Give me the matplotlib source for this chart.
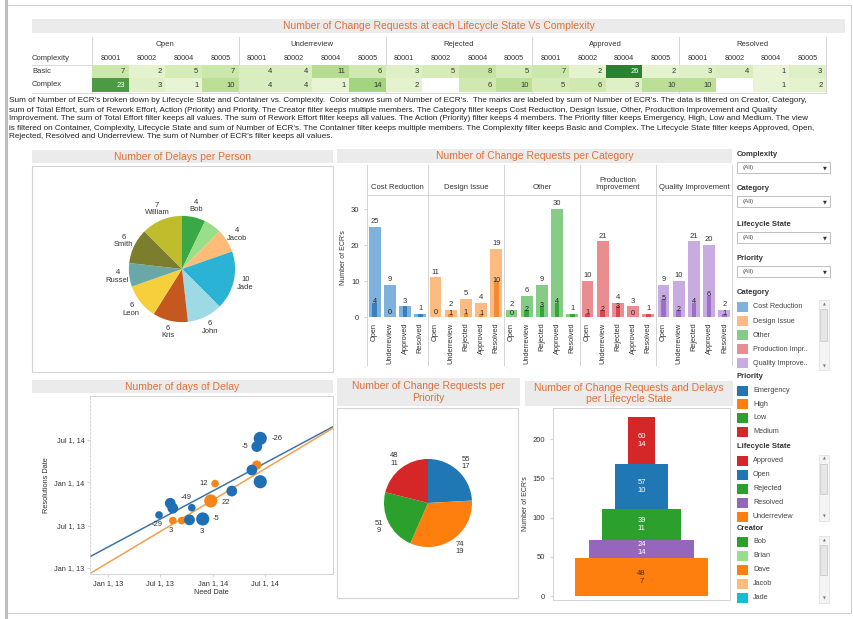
import numpy as np
import matplotlib
matplotlib.use("Agg")
import matplotlib.pyplot as plt
import matplotlib.dates as mdates
from matplotlib.patches import Rectangle
from matplotlib.colors import LinearSegmentedColormap

plt.rcParams['font.family'] = ['Liberation Sans', 'DejaVu Sans']

W, H = 854, 619

# --- data: heat table ---
states = ["Open", "Underreview", "Rejected", "Approved", "Resolved"]
containers = ["80001", "80002", "80004", "80005"]
complexity = ["Basic", "Complex"]
heat_basic = [7, 2, 5, 7, 4, 4, 11, 6, 3, 5, 8, 5, 7, 2, 26, 2, 3, 4, 1, 3]
heat_complex = [23, 3, 1, 10, 4, 4, 1, 14, 2, np.nan, 6, 10, 5, 6, 3, 10, 10, np.nan, 1, 2]

description = [
    "Sum of Number of ECR's broken down by Lifecycle State and Container vs. Complexity.  Color shows sum of Number of ECR's.  The marks are labeled by sum of Number of ECR's. The data is filtered on Creator, Category,",
    "sum of Total Effort, sum of Rework Effort, Action (Priority) and Priority. The Creator filter keeps multiple members. The Category filter keeps Cost Reduction, Design Issue, Other, Production Improvement and Quality",
    "Improvement. The sum of Total Effort filter keeps all values. The sum of Rework Effort filter keeps all values. The Action (Priority) filter keeps 4 members. The Priority filter keeps Emergency, High, Low and Medium. The view",
    "is filtered on Container, Complexity, Lifecycle State and sum of Number of ECR's. The Container filter keeps multiple members. The Complexity filter keeps Basic and Complex. The Lifecycle State filter keeps Approved, Open,",
    "Rejected, Resolved and Underreview. The sum of Number of ECR's filter keeps all values.",
]

# --- data: delays per person ---
people = ["Bob", "Brian", "Jacob", "Jade", "John", "Kris", "Leon", "Russel", "Smith", "William"]
people_delays = [4, 3, 4, 10, 6, 6, 6, 4, 6, 7]
people_labelled = [True, False, True, True, True, True, True, True, True, True]

# --- data: change requests per category ---
categories = ["Cost Reduction", "Design Issue", "Other", "Production\nImprovement", "Quality Improvement"]
cat_states = [
    ["Open", "Underreview", "Approved", "Resolved"],
    ["Open", "Underreview", "Rejected", "Approved", "Resolved"],
    ["Open", "Underreview", "Rejected", "Approved", "Resolved"],
    ["Open", "Underreview", "Rejected", "Approved", "Resolved"],
    ["Open", "Underreview", "Rejected", "Approved", "Resolved"],
]
cat_ecrs = [[25, 9, 3, 1], [11, 2, 5, 4, 19], [2, 6, 9, 30, 1], [10, 21, 4, 3, 1], [9, 10, 21, 20, 2]]
cat_delays = [[4, 0, 3, 1], [0, 1, 1, 1, 10], [0, 2, 3, 4, 1], [1, 2, 3, 0, 1], [5, 2, 4, 6, 1]]

# --- data: delay scatter (need date vs resolution date) ---
blue_need = ["2014-06-14", "2014-06-02", "2014-05-16", "2014-06-14", "2014-03-07", "2013-08-05",
             "2013-08-14", "2013-10-19", "2013-06-27", "2013-10-11", "2013-11-26"]
blue_res = ["2014-07-08", "2014-06-03", "2014-02-23", "2014-01-04", "2013-11-25", "2013-10-04",
            "2013-09-13", "2013-09-15", "2013-08-15", "2013-07-25", "2013-07-29"]
blue_effort = [3, 2, 2, 3, 2, 2, 2, 1, 1, 2, 3]
orange_need = ["2014-01-08", "2013-12-24", "2013-08-14", "2013-09-14", "2014-06-02"]
orange_res = ["2013-12-27", "2013-10-14", "2013-07-22", "2013-07-22", "2014-03-16"]
orange_effort = [1, 3, 1, 1, 1.5]
blue_trend_x = ["2012-10-30", "2015-02-22"]
blue_trend_y = ["2013-02-18", "2014-08-27"]
orange_trend_x = ["2012-10-30", "2015-02-22"]
orange_trend_y = ["2012-12-08", "2014-08-21"]

# --- data: priority ---
priorities = ["Emergency", "High", "Low", "Medium"]
pri_ecrs = [55, 74, 51, 48]
pri_delays = [17, 19, 9, 11]

# --- data: lifecycle funnel ---
funnel_states = ["Underreview", "Resolved", "Rejected", "Open", "Approved"]
funnel_ecrs = [48, 24, 39, 57, 60]
funnel_delays = [7, 14, 11, 10, 14]

creators = ["Bob", "Brian", "Dave", "Jacob", "Jade"]

# colours
TITLE_C = '#e0703a'
BAND_C = '#ebebeb'
LINE_C = '#d4d4d4'
TXT = '#333333'
people_colors = ['#3aa845', '#98df8a', '#ffbb78', '#2bb3d6', '#9edae5', '#c4581f',
                 '#f5d03c', '#6aa8a8', '#7d7d2e', '#bfbd2c']
cat_light = ['#7fb1dd', '#fbbb82', '#86cc86', '#ea8d90', '#c8abe0']
cat_dark = ['#3b7dbd', '#f08c36', '#36a63b', '#d8474b', '#9a70c6']
pri_colors = ['#1f77b4', '#ff7f0e', '#2ca02c', '#d62728']
state_colors = {"Approved": '#d62728', "Open": '#1f77b4', "Rejected": '#2ca02c',
                "Resolved": '#9467bd', "Underreview": '#ff7f0e'}
creator_colors = ['#2ca02c', '#98df8a', '#ff7f0e', '#ffbb78', '#17becf']


def box(x0, y0, x1, y1):
    return [x0 / W, 1 - y1 / H, (x1 - x0) / W, (y1 - y0) / H]


fig = plt.figure(figsize=(W / 100, H / 100), dpi=100)
bg = fig.add_axes([0, 0, 1, 1])
bg.set_xlim(0, W)
bg.set_ylim(H, 0)
bg.axis('off')

# outer frame
bg.add_patch(Rectangle((6, 5), 845, 608, fill=False, ec='#cfcfcf', lw=0.8))
bg.plot([6, 6], [0, H], color='#bdbdbd', lw=2.2)


def band(x0, y0, x1, y1, text):
    bg.add_patch(Rectangle((x0, y0), x1 - x0, y1 - y0, color=BAND_C, lw=0))
    bg.text((x0 + x1) / 2, (y0 + y1) / 2, text, color=TITLE_C, fontsize=7.5,
            ha='center', va='center', linespacing=1.15)


def frame(x0, y0, x1, y1):
    bg.add_patch(Rectangle((x0, y0), x1 - x0, y1 - y0, fill=False, ec=LINE_C, lw=0.8))


# ---------------- heat table ----------------
band(32, 19, 845, 33, "Number of Change Requests at each Lifecycle State Vs Complexity")
tx0, tx1 = 92, 826
cw = (tx1 - tx0) / 20
hax = fig.add_axes(box(tx0, 65, tx1, 92))
grid = np.ma.masked_invalid(np.array([heat_basic, heat_complex], dtype=float))
cmap = LinearSegmentedColormap.from_list('gr', ['#eef7dc', '#c4e39f', '#8fcb6b', '#2b8131'])
hax.imshow(grid, cmap=cmap, vmin=0, vmax=26, aspect='auto', extent=(0, 20, 2, 0),
           interpolation='nearest')
for r, row in enumerate([heat_basic, heat_complex]):
    for c, v in enumerate(row):
        if np.isnan(v):
            continue
        hax.text(c + 0.9, r + 0.5, f"{int(v)}", ha='right', va='center', fontsize=5.5,
                 color='white' if v >= 20 else TXT)
hax.set_xlim(0, 20)
hax.set_ylim(2, 0)
hax.axis('off')

for g, s in enumerate(states):
    gx = tx0 + g * 4 * cw
    bg.text(gx + 2 * cw, 44, s, ha='center', va='center', fontsize=5.5, color=TXT)
    for k, cn in enumerate(containers):
        bg.text(gx + (k + 0.5) * cw, 58, cn, ha='center', va='center', fontsize=5.2, color=TXT)
    bg.plot([gx, gx], [37, 92], color=LINE_C, lw=0.7)
bg.plot([tx1, tx1], [37, 92], color=LINE_C, lw=0.7)
bg.plot([32, tx1], [64.5, 64.5], color=LINE_C, lw=0.6)
bg.plot([32, tx1], [92.5, 92.5], color=LINE_C, lw=0.6)
bg.text(32, 58, "Complexity", ha='left', va='center', fontsize=5.5, color=TXT)
for r, cx in enumerate(complexity):
    bg.text(32, 71.5 + r * 13.5, cx, ha='left', va='center', fontsize=5.5, color=TXT)

for i, line in enumerate(description):
    bg.text(9, 101 + i * 9, line, ha='left', va='center', fontsize=5.9, color='#222222')

# ---------------- delays per person ----------------
band(32, 150, 333, 163, "Number of Delays per Person")
frame(32, 166, 333, 372)
pax = fig.add_axes(box(182 - 85, 269 - 85, 182 + 85, 269 + 85))
plabels = [f"{v}\n{n}" if show else "" for v, n, show in zip(people_delays, people, people_labelled)]
pax.pie(people_delays, colors=people_colors, startangle=90, counterclock=False,
        labels=plabels, labeldistance=1.22, radius=1,
        textprops=dict(fontsize=5.5, ha='center', va='center', color=TXT, linespacing=1.1),
        wedgeprops=dict(linewidth=0))
pax.set_xlim(-1.6, 1.6)
pax.set_ylim(-1.6, 1.6)
pax.set_aspect('equal')

# ---------------- requests per category ----------------
band(337, 149, 732, 163, "Number of Change Requests per Category")
bax = fig.add_axes(box(367, 195, 732, 320))
pos = 0
tick_pos, tick_lab = [], []
bounds = [-0.5]
for ci, cat in enumerate(categories):
    n = len(cat_states[ci])
    xs = np.arange(n) + pos
    bax.bar(xs, cat_ecrs[ci], width=0.78, color=cat_light[ci], lw=0)
    bax.bar(xs, cat_delays[ci], width=0.3, color=cat_dark[ci], lw=0)
    for x, v, d in zip(xs, cat_ecrs[ci], cat_delays[ci]):
        bax.text(x, v + 0.5, str(v), ha='center', va='bottom', fontsize=5.5, color=TXT)
        if d != v:
            iy = min(max(d, 1.0), v - 0.6) if v - d < 4 else max(d, 1.2) + 0.2
            bax.text(x, iy, str(d), ha='center', va='center', fontsize=5.2, color='#222222')
    bax.text(pos + (n - 1) / 2, 1.03, cat, transform=bax.get_xaxis_transform(),
             ha='center', va='bottom', fontsize=5.5, color=TXT, linespacing=1.1)
    tick_pos += list(xs)
    tick_lab += cat_states[ci]
    pos += n
    bounds.append(pos - 0.5)
for b in bounds:
    bax.axvline(b, ymin=-0.36, ymax=1.24, color=LINE_C, lw=0.7, clip_on=False)
bax.set_xlim(-0.5, pos - 0.5)
bax.set_ylim(-0.8, 33.9)
bax.set_xticks(tick_pos, tick_lab, rotation=90, fontsize=5.3, color=TXT)
bax.set_yticks([0, 10, 20, 30])
bax.tick_params(axis='x', length=0, pad=2)
bax.tick_params(axis='y', labelsize=5.5, length=2, color=LINE_C, labelcolor=TXT)
bax.set_ylabel("Number of ECR's", fontsize=5, color=TXT, labelpad=3)
for sp in ['right', 'bottom']:
    bax.spines[sp].set_visible(False)
bax.spines['left'].set_visible(False)
bax.spines['top'].set_color(LINE_C)
bax.spines['top'].set_linewidth(0.7)
bax.patch.set_alpha(0)

# ---------------- days of delay scatter ----------------
band(32, 380, 333, 393, "Number of days of Delay")
sax = fig.add_axes(box(90, 396, 333, 574))
d2n = mdates.datestr2num
sax.plot(d2n(blue_trend_x), d2n(blue_trend_y), color='#3f74a8', lw=1.1, zorder=1)
sax.plot(d2n(orange_trend_x), d2n(orange_trend_y), color='#f2a04e', lw=1.1, zorder=1)
sax.scatter(d2n(orange_need), d2n(orange_res), s=np.array(orange_effort) * 30,
            color='#f58518', lw=0, zorder=3)
sax.scatter(d2n(blue_need), d2n(blue_res), s=np.array(blue_effort) * 30,
            color='#1f6fb4', lw=0, zorder=3)
# (series, index, text, dx, dy) in points
point_notes = [
    (blue_need, blue_res, 0, "-26", 8, 0, 'left'),
    (blue_need, blue_res, 1, "-5", -6, 0, 'right'),
    (blue_need, blue_res, 7, "-49", -4, 7, 'center'),
    (blue_need, blue_res, 8, "-29", -1, -6.5, 'center'),
    (blue_need, blue_res, 10, "-5", 7, 0, 'left'),
    (blue_need, blue_res, 10, "3", -1, -9, 'center'),
    (orange_need, orange_res, 0, "12", -5, 0, 'right'),
    (orange_need, orange_res, 1, "22", 8, -1, 'left'),
    (orange_need, orange_res, 2, "3", -1.5, -7, 'center'),
]
for xs_, ys_, i, t, dx, dy, ha in point_notes:
    sax.annotate(t, (d2n(xs_[i]), d2n(ys_[i])), xytext=(dx, dy), textcoords='offset points',
                 ha=ha, va='center', fontsize=5.5, color=TXT, zorder=4)
sax.set_xlim(d2n("2012-10-30"), d2n("2015-02-22"))
sax.set_ylim(d2n("2012-12-06"), d2n("2015-01-05"))
tick_dates = ["2013-01-01", "2013-07-01", "2014-01-01", "2014-07-01"]
tick_names = ["Jan 1, 13", "Jul 1, 13", "Jan 1, 14", "Jul 1, 14"]
sax.set_xticks(d2n(tick_dates), tick_names)
sax.set_yticks(d2n(tick_dates), tick_names)
sax.tick_params(labelsize=5.3, length=2, color=LINE_C, labelcolor=TXT, pad=2)
sax.set_xlabel("Need Date", fontsize=5.3, color=TXT, labelpad=2)
sax.set_ylabel("Resolutions Date", fontsize=5.3, color=TXT, labelpad=3)
for sp in sax.spines.values():
    sp.set_color(LINE_C)
    sp.set_linewidth(0.7)
sax.spines['left'].set_linestyle((0, (2, 2)))

# ---------------- priority pie ----------------
band(337, 378, 520, 406, "Number of Change Requests per\nPriority")
frame(337, 408, 518, 598)
qax = fig.add_axes(box(428 - 70, 503 - 70, 428 + 70, 503 + 70))
qax.pie(pri_ecrs, colors=pri_colors, startangle=90, counterclock=False,
        labels=[f"{e}\n{d}" for e, d in zip(pri_ecrs, pri_delays)], labeldistance=1.25,
        textprops=dict(fontsize=5.5, ha='center', va='center', color=TXT, linespacing=1.1),
        wedgeprops=dict(linewidth=0))
qax.set_xlim(-1.59, 1.59)
qax.set_ylim(-1.59, 1.59)
qax.set_aspect('equal')

# ---------------- lifecycle funnel ----------------
band(525, 381, 733, 406, "Number of Change Requests and Delays\nper Lifecycle State")
fax = fig.add_axes(box(553, 408, 730, 600))
bottom = 0
nst = len(funnel_states)
for i, (s, e, d) in enumerate(zip(funnel_states, funnel_ecrs, funnel_delays)):
    fax.bar(0, e, width=nst - i, bottom=bottom, color=state_colors[s], lw=0)
    fax.text(0, bottom + e / 2, f"{e}\n{d}", ha='center', va='center', fontsize=5.5,
             color=TXT if s == "Underreview" else 'white', linespacing=1.2)
    bottom += e
fax.set_xlim(-3.35, 3.35)
fax.set_ylim(-5, 239.5)
fax.set_xticks([])
fax.set_yticks([0, 50, 100, 150, 200])
fax.tick_params(labelsize=5.5, length=2, color=LINE_C, labelcolor=TXT)
fax.set_ylabel("Number of ECR's", fontsize=5, color=TXT, labelpad=3)
for sp in fax.spines.values():
    sp.set_color(LINE_C)
    sp.set_linewidth(0.7)

# ---------------- filters and legends ----------------
LX = 737


def heading(y, t):
    bg.text(LX, y, t, ha='left', va='center', fontsize=5.5, fontweight='bold', color=TXT)


def dropdown(y):
    bg.add_patch(Rectangle((LX, y), 93, 11, fc='white', ec='#b5b5b5', lw=0.6))
    bg.text(LX + 6, y + 5.5, "(All)", ha='left', va='center', fontsize=4.6, color='#555555')
    bg.text(LX + 88, y + 5.8, "\u25BC", ha='center', va='center', fontsize=3.6, color='#333333',
            family='DejaVu Sans')


def items(y0, names, colors, step=14.2):
    for k, (nm, col) in enumerate(zip(names, colors)):
        y = y0 + k * step
        bg.add_patch(Rectangle((LX, y - 5), 11, 10, color=col, lw=0))
        bg.text(LX + 16, y, nm, ha='left', va='center', fontsize=5.2, color='#444444')


def scroller(y0, y1):
    bg.add_patch(Rectangle((819, y0), 10, y1 - y0, fc='#f4f4f4', ec='#dddddd', lw=0.5))
    bg.add_patch(Rectangle((820.5, y0 + 9), 7, (y1 - y0) * 0.45, fc='#e6e6e6', ec='#c8c8c8', lw=0.5))
    bg.text(824, y0 + 4, "\u25B2", ha='center', va='center', fontsize=2.6, color='#777777', family='DejaVu Sans')
    bg.text(824, y1 - 4, "\u25BC", ha='center', va='center', fontsize=2.6, color='#777777', family='DejaVu Sans')


for y, t in [(154, "Complexity"), (188, "Category"), (224, "Lifecycle State"), (258, "Priority")]:
    heading(y, t)
    dropdown(y + 8)

heading(292, "Category")
items(307, ["Cost Reduction", "Design Issue", "Other", "Production Impr..", "Quality Improve.."],
      cat_light, step=14.1)
scroller(300, 370)

heading(376, "Priority")
items(390.5, priorities, pri_colors, step=13.7)

heading(447, "Lifecycle State")
lc_names = sorted(state_colors)
items(461, lc_names, [state_colors[s] for s in lc_names], step=14)
scroller(455, 521)

heading(528, "Creator")
items(541.5, creators, creator_colors, step=14)
scroller(536, 603)

fig.savefig("out.png", dpi=100, facecolor='white')
